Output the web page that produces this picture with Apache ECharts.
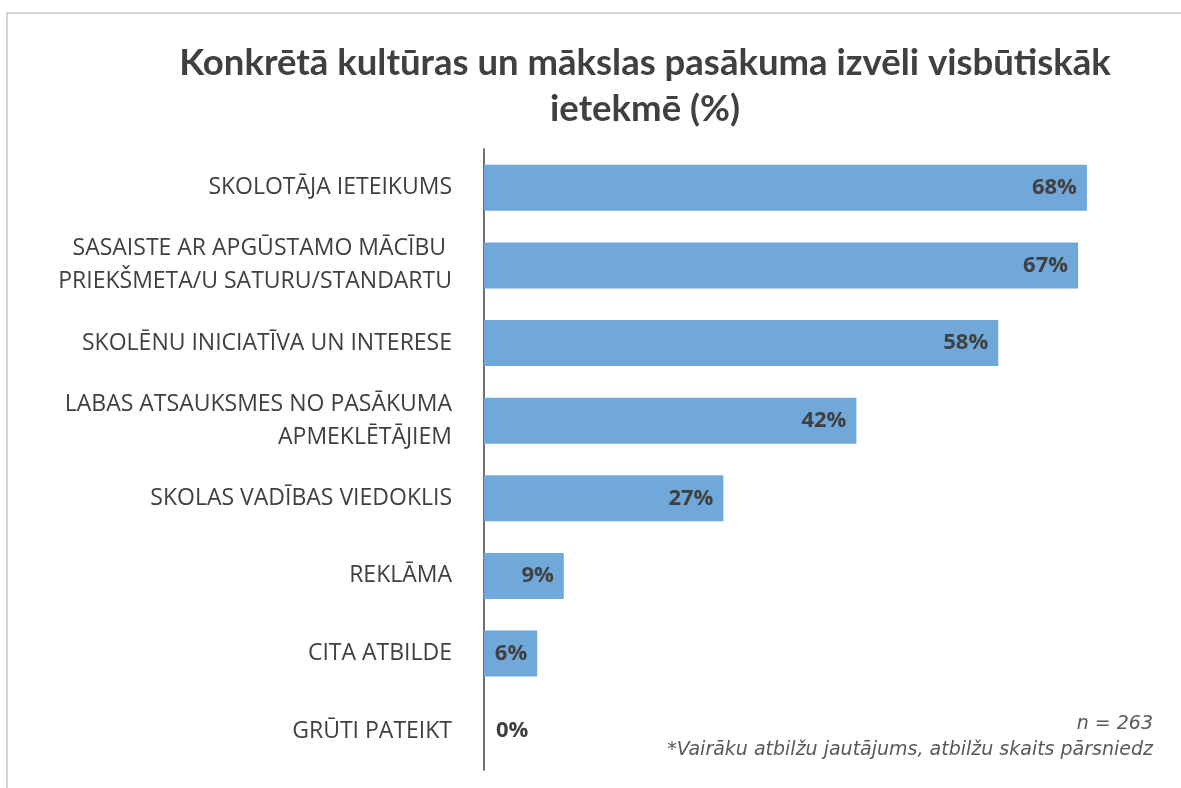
<!DOCTYPE html>
<html>
<head>
<meta charset="utf-8">
<script src="https://cdn.jsdelivr.net/npm/echarts@6/dist/echarts.min.js"></script>
<style>
  html, body { margin: 0; padding: 0; background: #fff; }
  #chart { width: 1181px; height: 788px; }
</style>
</head>
<body>
<div id="chart"></div>
<script>
var categories = [
    'SKOLOTĀJA IETEIKUMS',
    'SASAISTE AR APGŪSTAMO MĀCĪBU \nPRIEKŠMETA/U SATURU/STANDARTU',
    'SKOLĒNU INICIATĪVA UN INTERESE',
    'LABAS ATSAUKSMES NO PASĀKUMA\nAPMEKLĒTĀJIEM',
    'SKOLAS VADĪBAS VIEDOKLIS',
    'REKLĀMA',
    'CITA ATBILDE',
    'GRŪTI PATEIKT'
];
var values = [68, 67, 58, 42, 27, 9, 6, 0];

var seriesData = values.map(function(v) {
    // zero bar: put the label outside, right of the axis
    if (v === 0) {
        return {value: v, label: {position: 'right', distance: 12}};
    }
    return {value: v};
});

var myChart = echarts.init(document.getElementById('chart'));
var option = {
    backgroundColor: '#fff',
    animation: false,
    title: {
        text: 'Konkrētā kultūras un mākslas pasākuma izvēli visbūtiskāk\nietekmē (%)',
        left: 640,
        textAlign: 'center',
        top: 35,
        textStyle: {
            fontFamily: 'Lato',
            fontWeight: 'bold',
            fontSize: 36.5,
            lineHeight: 46,
            color: '#404040'
        }
    },
    grid: {
        left: 484,
        top: 149,
        width: 665,
        bottom: 18,
        containLabel: false
    },
    xAxis: {
        type: 'value',
        min: 0,
        max: 75,
        show: false
    },
    yAxis: {
        type: 'category',
        inverse: true,
        data: categories,
        axisLine: {show: true, lineStyle: {color: '#404040', width: 1.5}},
        axisTick: {show: false},
        axisLabel: {
            margin: 32,
            align: 'right',
            fontFamily: 'Open Sans',
            fontSize: 23,
            lineHeight: 33,
            color: '#404040'
        }
    },
    series: [{
        type: 'bar',
        data: seriesData,
        barWidth: 46,
        itemStyle: {color: '#71a8da'},
        label: {
            show: true,
            position: 'insideRight',
            distance: 10,
            formatter: '{c}%',
            fontFamily: 'Open Sans',
            fontWeight: 'bold',
            fontSize: 22,
            color: '#404040'
        }
    }],
    graphic: [
        {
            type: 'polyline',
            shape: {points: [[7, 788], [7, 13], [1181, 13]]},
            style: {stroke: '#c8c8c8', lineWidth: 1.5, fill: null}
        },
        {
            type: 'text',
            right: 28,
            top: 715,
            style: {
                text: 'n = 263',
                fontFamily: 'DejaVu Sans',
                fontStyle: 'italic',
                fontSize: 19,
                fill: '#595959',
                textAlign: 'right'
            }
        },
        {
            type: 'text',
            right: 28,
            top: 741,
            style: {
                text: '*Vairāku atbilžu jautājums, atbilžu skaits pārsniedz',
                fontFamily: 'DejaVu Sans',
                fontStyle: 'italic',
                fontSize: 19,
                fill: '#595959',
                textAlign: 'right'
            }
        }
    ]
};
myChart.setOption(option);
</script>
</body>
</html>
